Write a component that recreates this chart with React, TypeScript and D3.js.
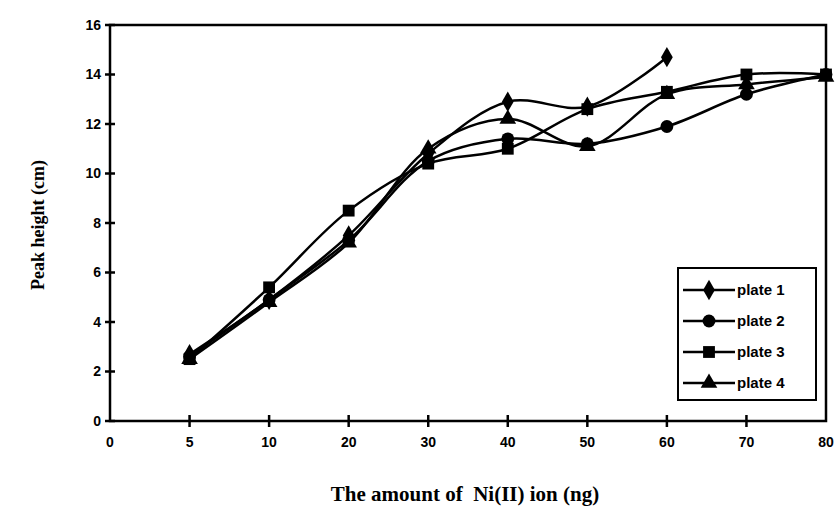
import React, { useRef, useEffect } from 'react';
import * as d3 from 'd3';

// x categories (equally spaced in the original chart)
const categories = ['0', '5', '10', '20', '30', '40', '50', '60', '70', '80'];
const yTicks = [0, 2, 4, 6, 8, 10, 12, 14, 16];

const plate1 = [
  { x: '5', y: 2.7 }, { x: '10', y: 4.9 }, { x: '20', y: 7.5 }, { x: '30', y: 10.8 },
  { x: '40', y: 12.9 }, { x: '50', y: 12.7 }, { x: '60', y: 14.7 },
];
const plate2 = [
  { x: '5', y: 2.6 }, { x: '10', y: 4.9 }, { x: '20', y: 7.3 }, { x: '30', y: 10.5 },
  { x: '40', y: 11.4 }, { x: '50', y: 11.2 }, { x: '60', y: 11.9 }, { x: '70', y: 13.2 },
  { x: '80', y: 14.0 },
];
const plate3 = [
  { x: '5', y: 2.5 }, { x: '10', y: 5.4 }, { x: '20', y: 8.5 }, { x: '30', y: 10.4 },
  { x: '40', y: 11.0 }, { x: '50', y: 12.6 }, { x: '60', y: 13.3 }, { x: '70', y: 14.0 },
  { x: '80', y: 14.0 },
];
const plate4 = [
  { x: '5', y: 2.5 }, { x: '10', y: 4.8 }, { x: '20', y: 7.2 }, { x: '30', y: 11.0 },
  { x: '40', y: 12.2 }, { x: '50', y: 11.1 }, { x: '60', y: 13.2 }, { x: '70', y: 13.6 },
  { x: '80', y: 13.9 },
];

const series = [
  { name: 'plate 1', data: plate1, symbol: d3.symbolDiamond, size: 120 },
  { name: 'plate 2', data: plate2, symbol: d3.symbolCircle, size: 130 },
  { name: 'plate 3', data: plate3, symbol: d3.symbolSquare, size: 140 },
  { name: 'plate 4', data: plate4, symbol: d3.symbolTriangle, size: 120 },
];

const App = () => {
  const svgRef = useRef<SVGSVGElement>(null);

  useEffect(() => {
    const width = 836;
    const height = 519;
    const left = 110;
    const right = 826;
    const top = 25;
    const bottom = 421;

    const svg = d3.select(svgRef.current);
    svg.selectAll('*').remove();

    const x = d3.scalePoint().domain(categories).range([left, right]);
    const y = d3.scaleLinear().domain([0, 16]).range([bottom, top]);

    const tickFont = '"Liberation Sans", Arial, sans-serif';
    const titleFont = '"Liberation Serif", "Times New Roman", serif';

    // frame
    svg.append('rect')
      .attr('x', left).attr('y', top)
      .attr('width', right - left).attr('height', bottom - top)
      .attr('fill', 'none').attr('stroke', '#000').attr('stroke-width', 2.5);

    // y ticks (cross the axis)
    svg.append('g').selectAll('line').data(yTicks).join('line')
      .attr('x1', left - 5).attr('x2', left + 5)
      .attr('y1', (d) => y(d)).attr('y2', (d) => y(d))
      .attr('stroke', '#000').attr('stroke-width', 2.5);
    svg.append('g').selectAll('text').data(yTicks).join('text')
      .attr('x', left - 9).attr('y', (d) => y(d))
      .attr('dy', '0.35em').attr('text-anchor', 'end')
      .style('font', `bold 14px ${tickFont}`)
      .text((d) => d);

    // x ticks
    svg.append('g').selectAll('line').data(categories.slice(1, -1)).join('line')
      .attr('x1', (d) => x(d)).attr('x2', (d) => x(d))
      .attr('y1', bottom - 6).attr('y2', bottom + 6)
      .attr('stroke', '#000').attr('stroke-width', 2.5);
    svg.append('g').selectAll('text').data(categories).join('text')
      .attr('x', (d) => x(d)).attr('y', bottom + 26)
      .attr('text-anchor', 'middle')
      .style('font', `bold 14px ${tickFont}`)
      .text((d) => d);

    // titles
    svg.append('text')
      .attr('x', 465).attr('y', 501)
      .attr('text-anchor', 'middle')
      .style('font', `bold 21px ${titleFont}`)
      .attr('xml:space', 'preserve')
      .text('The amount of  Ni(II) ion (ng)');
    svg.append('text')
      .attr('transform', `translate(44,${(top + bottom) / 2 + 2}) rotate(-90)`)
      .attr('text-anchor', 'middle')
      .style('font', `bold 18px ${titleFont}`)
      .text('Peak height (cm)');

    // lines + markers
    const line = d3.line<any>()
      .x((d) => x(d.x))
      .y((d) => y(d.y))
      .curve(d3.curveCatmullRom.alpha(0.5));

    const g = svg.append('g');
    series.forEach((s) => {
      g.append('path')
        .attr('d', line(s.data))
        .attr('fill', 'none').attr('stroke', '#000').attr('stroke-width', 2.5);
      g.append('g').selectAll('path').data(s.data).join('path')
        .attr('transform', (d) => `translate(${x(d.x)},${y(d.y)})`)
        .attr('d', d3.symbol().type(s.symbol).size(s.size)())
        .attr('fill', '#000');
    });

    // legend
    const lg = svg.append('g');
    lg.append('rect')
      .attr('x', 678).attr('y', 268).attr('width', 138).attr('height', 132)
      .attr('fill', '#fff').attr('stroke', '#000').attr('stroke-width', 2);
    series.forEach((s, i) => {
      const cy = 290 + i * 31;
      lg.append('line')
        .attr('x1', 683).attr('x2', 735).attr('y1', cy).attr('y2', cy)
        .attr('stroke', '#000').attr('stroke-width', 2.5);
      lg.append('path')
        .attr('transform', `translate(709,${cy})`)
        .attr('d', d3.symbol().type(s.symbol).size(s.size)())
        .attr('fill', '#000');
      lg.append('text')
        .attr('x', 737).attr('y', cy).attr('dy', '0.35em')
        .style('font', `bold 15px ${tickFont}`)
        .text(s.name);
    });

    svg.attr('width', width).attr('height', height);
  }, []);

  return (
    <svg
      ref={svgRef}
      style={{ position: 'absolute', left: 0, top: 0, background: '#fff' }}
    />
  );
};

export default App;
